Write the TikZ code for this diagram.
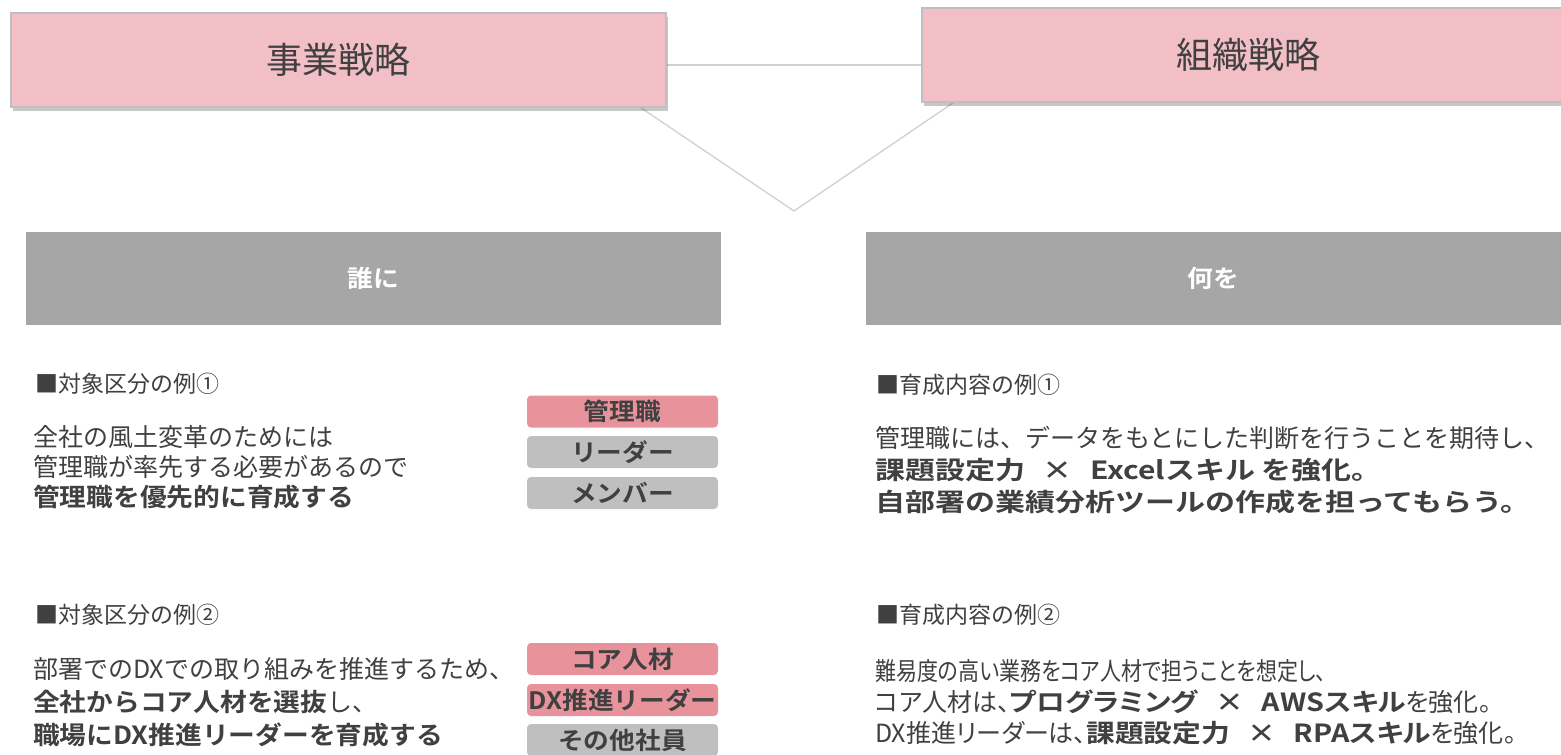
\documentclass[tikz,border=0pt]{standalone}
\usepackage{fontspec}
\setmainfont{Noto Sans CJK JP}[BoldFont={Noto Sans CJK JP Bold},BoldFeatures={FakeStretch=1.07}]
\newfontfamily\rbold{Noto Sans CJK JP Bold}[FakeStretch=1.2]
\newfontfamily\rboldp{Noto Sans CJK JP Bold}[FakeStretch=1.15,RawFeature=+palt]
\newfontfamily\regp{Noto Sans CJK JP}[RawFeature=+palt]
\usetikzlibrary{shadows,backgrounds}
\definecolor{pinkbox}{HTML}{F2BFC6}
\definecolor{pinkborder}{HTML}{BFBFBF}
\definecolor{headgray}{HTML}{A6A6A6}
\definecolor{badgepink}{HTML}{E8939C}
\definecolor{badgegray}{HTML}{BFBFBF}
\definecolor{txt}{HTML}{404040}
\definecolor{linegray}{HTML}{D0D0D0}
\tikzset{
  strat/.style={draw=pinkborder, line width=1.2pt, fill=pinkbox, minimum height=94pt,
    text=txt, font=\fontsize{36}{40}\selectfont, inner sep=0pt,
    drop shadow={shadow xshift=2pt, shadow yshift=-4pt, fill=black, opacity=0.22}},
  head/.style={fill=headgray, minimum width=695pt, minimum height=93pt, inner sep=0pt,
    text=white, font=\fontsize{24}{28}\selectfont\bfseries},
  badge/.style={rounded corners=4pt, minimum width=191pt, minimum height=32pt, inner sep=0pt,
    text=txt, font=\fontsize{24}{26}\selectfont\bfseries},
  bpink/.style={badge, fill=badgepink},
  bgray/.style={badge, fill=badgegray},
  sect/.style={anchor=west, inner sep=0pt, text=txt, font=\fontsize{23}{27}\selectfont},
  body/.style={anchor=west, inner sep=0pt, text=txt, align=left, font=\fontsize{25}{31}\selectfont},
  conn/.style={draw=linegray, line width=1.3pt}
}
\newcommand{\xx}{\hspace{0.7em}×\hspace{0.7em}}
\newcommand{\rb}[1]{{\rbold #1}}
\newcommand{\rbp}[1]{{\rboldp #1}}
\begin{document}
\begin{tikzpicture}[x=1pt,y=-1pt]
\useasboundingbox (0,0) rectangle (1561,755);
% strategy boxes
\node[strat, minimum width=655pt] (biz) at (338.5,60) {事業戦略};
\node[strat, minimum width=653pt] (org) at (1248.5,55) {組織戦略};
\coordinate (v) at (794,211);
\begin{scope}[on background layer]
  \draw[conn] ([yshift=-5pt]biz.east) -- ([yshift=-5pt]biz.east -| org.west);
  \draw[conn] ([xshift=-26pt]biz.south east) -- (v) -- ([xshift=32pt]org.south west);
\end{scope}
% headers
\node[head] (who) at (373.5,278.5) {誰に};
\node[head] (what) at (1213.5,278.5) {何を};
% left column
\node[sect] (s1) at (35,384) {■対象区分の例①};
\node[body, font=\fontsize{25}{30}\selectfont] (p1) at (33,467) {全社の風土変革のためには\\管理職が率先する必要があるので\\\textbf{管理職を優先的に育成する}};
\node[bpink] (b1) at (622.5,411.5) {管理職};
\node[bgray] (b2) at (622.5,452) {リーダー};
\node[bgray] (b3) at (622.5,493) {メンバー};
\node[sect] (s2) at (35,615) {■対象区分の例②};
\node[body, font=\fontsize{25}{33}\selectfont] (p2) at (33,702) {部署でのDXでの取り組みを推進するため、\\\textbf{全社からコア人材を選抜}し、\\\textbf{職場にDX推進リーダーを育成する}};
\node[bpink] (b4) at (622.5,659) {コア人材};
\node[bpink] (b5) at (622.5,700) {DX推進リーダー};
\node[bgray] (b6) at (622.5,740) {その他社員};
% right column
\node[sect] (s3) at (876,385) {■育成内容の例①};
\node[body, font=\fontsize{25}{32}\selectfont] (p3) at (875,470) {管理職には、データをもとにした判断を行うことを期待し、\\\rb{課題設定力\xx Excelスキル を強化。}\\\rb{自部署の業績分析ツールの作成を担ってもらう。}};
\node[sect] (s4) at (876,615) {■育成内容の例②};
\node[body, font=\fontsize{25}{31}\selectfont\regp] (p4) at (875,702) {\scalebox{0.84}[1]{難易度の高い業務をコア人材で担うことを想定し、}\\コア人材は、\rbp{プログラミング\xx AWSスキル}を強化。\\DX推進リーダーは、\rbp{課題設定力\xx RPAスキル}を強化。};
\end{tikzpicture}
\end{document}
